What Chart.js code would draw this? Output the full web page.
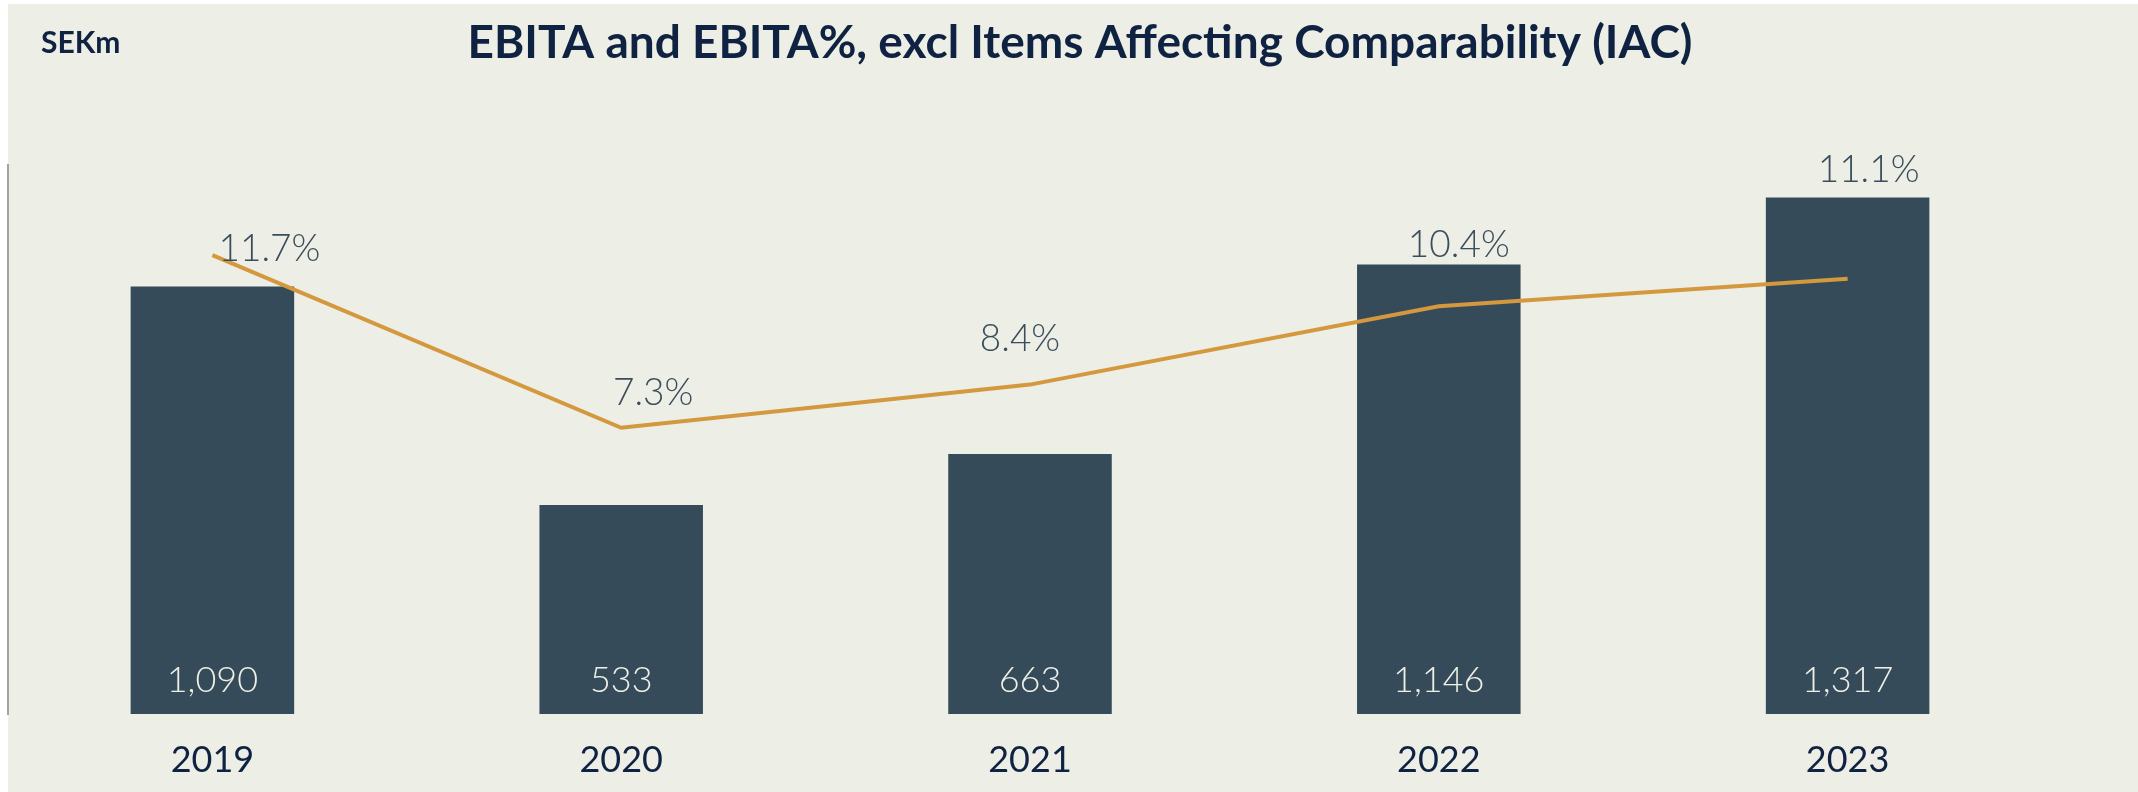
<!DOCTYPE html>
<html>
<head>
<meta charset="utf-8">
<script src="https://cdn.jsdelivr.net/npm/chart.js@4"></script>
<style>
  html, body { margin: 0; padding: 0; background: #ffffff; }
  #wrap { width: 2138px; height: 792px; position: relative; }
</style>
</head>
<body>
<div id="wrap"><canvas id="grafEbita" width="2138" height="792"></canvas></div>
<script>
// data
var years = ['2019', '2020', '2021', '2022', '2023'];
var ebita = [1090, 533, 663, 1146, 1317];
var ebitaPct = [11.7, 7.3, 8.4, 10.4, 11.1];
var ebitaTicks = [0, 200, 400, 600, 800, 1000, 1200, 1400];

// where the % labels sit relative to their point (px)
var pctLabelShift = [[57, -6], [32, -35], [-10, -46], [20, -61], [21, -109]];

var bg = '#edeee5';
var barColor = '#364b59';
var lineColor = '#d4983f';
var navy = '#0f2242';

var panel = {
    id: 'panel',
    beforeDraw: function(chart){
        var ctx = chart.ctx;
        ctx.save();
        ctx.fillStyle = '#ffffff';
        ctx.fillRect(0, 0, chart.width, chart.height);
        ctx.fillStyle = bg;
        ctx.fillRect(8, 4, chart.width - 8, chart.height - 4);
        ctx.restore();
    },
    afterDraw: function(chart){
        var ctx = chart.ctx;
        ctx.save();
        ctx.textBaseline = 'alphabetic';
        ctx.fillStyle = navy;
        ctx.font = 'bold 30px Lato';
        ctx.textAlign = 'left';
        ctx.fillText('SEKm', 41, 53);
        ctx.font = 'bold 46px Lato';
        ctx.textAlign = 'center';
        ctx.fillText('EBITA and EBITA%, excl Items Affecting Comparability (IAC)', 1080, 58);

        // value labels inside the bars
        var bars = chart.getDatasetMeta(1).data;
        ctx.font = '300 36px Lato';
        ctx.fillStyle = '#eef0e6';
        ctx.textBaseline = 'middle';
        bars.forEach(function(b, i){
            ctx.fillText(ebita[i].toLocaleString('en-US'), b.x, chart.chartArea.bottom - 34);
        });

        // % labels near the line
        var pts = chart.getDatasetMeta(0).data;
        ctx.font = '300 37px Lato';
        ctx.fillStyle = '#3a4d5b';
        pts.forEach(function(p, i){
            ctx.fillText(ebitaPct[i].toFixed(1) + '%', p.x + pctLabelShift[i][0], p.y + pctLabelShift[i][1]);
        });
        ctx.restore();
    }
};

var ctx = document.getElementById('grafEbita');
var chartEbita = new Chart(ctx, {
    type: 'bar',
    data: {
        labels: years,
        datasets: [{
            type: 'line',
            label: 'EBITA %',
            data: ebitaPct,
            yAxisID: 'y2',
            borderColor: lineColor,
            borderWidth: 4,
            pointRadius: 0,
            tension: 0,
            fill: false
        }, {
            type: 'bar',
            label: 'EBITA',
            data: ebita,
            yAxisID: 'y',
            backgroundColor: barColor,
            categoryPercentage: 1,
            barPercentage: 0.4
        }]
    },
    options: {
        responsive: false,
        animation: false,
        events: [],
        layout: { padding: { left: 0, right: 86, top: 165, bottom: 0 } },
        plugins: {
            legend: { display: false },
            tooltip: { enabled: false },
            title: { display: false }
        },
        scales: {
            x: {
                grid: { display: false },
                border: { display: false },
                ticks: { color: navy, padding: 17, font: { family: 'Lato', size: 36 } },
                afterFit: function(s){ s.height = 78; }
            },
            y: {
                min: 0,
                max: ebitaTicks[ebitaTicks.length - 1],
                afterBuildTicks: function(s){ s.ticks = ebitaTicks.map(function(v){ return { value: v }; }); },
                grid: { display: false },
                border: { display: true, color: '#a3a3a3', width: 2 },
                ticks: { display: false }
            },
            y2: {
                display: false,
                min: 0,
                max: 14
            }
        }
    },
    plugins: [panel]
});
</script>
</body>
</html>
